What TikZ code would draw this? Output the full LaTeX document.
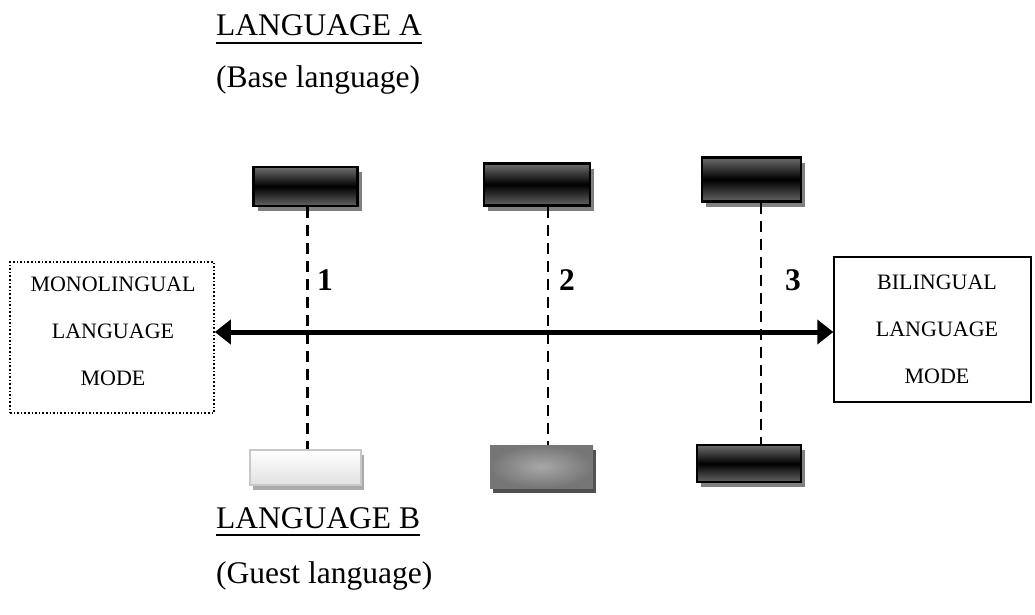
\documentclass[tikz,border=0pt]{standalone}
\usepackage{fontspec}
\setmainfont{Liberation Serif}
\usetikzlibrary{arrows.meta,shadows,calc}
\begin{document}
\begin{tikzpicture}[x=1pt,y=-1pt,
  darkbar/.style={draw=black,line width=2.5pt,inner sep=0pt,
    top color={rgb,255:red,110;green,110;blue,110},
    bottom color={rgb,255:red,100;green,100;blue,100},middle color=black,
    drop shadow={shadow xshift=4pt,shadow yshift=-5pt,fill={rgb,255:red,128;green,128;blue,128},opacity=1}},
  lightbar/.style={draw={rgb,255:red,200;green,200;blue,200},line width=2pt,inner sep=0pt,
    top color=white,bottom color={rgb,255:red,225;green,225;blue,225},
    drop shadow={shadow xshift=3pt,shadow yshift=-5pt,fill={rgb,255:red,170;green,170;blue,170},opacity=1}},
  midbar/.style={draw=none,inner sep=0pt,shading=radial,
    inner color={rgb,255:red,168;green,168;blue,168},outer color={rgb,255:red,118;green,118;blue,118},
    drop shadow={shadow xshift=3pt,shadow yshift=-5pt,fill={rgb,255:red,80;green,80;blue,80},opacity=1}},
  dashline/.style={line width=2.3pt,dash pattern=on 11pt off 7pt},
  bigtext/.style={font=\fontsize{31.5}{36}\selectfont,inner sep=0pt},
  boxtext/.style={font=\fontsize{22}{47}\selectfont,align=center,inner sep=0pt},
  numtext/.style={font=\fontsize{31.5}{36}\selectfont\bfseries,inner sep=0pt},
  bigarrow/.style={line width=5pt,{Triangle[length=16pt,width=24pt]}-{Triangle[length=16pt,width=24pt]}},
  ul/.style={line width=2pt}
]
\useasboundingbox (0,0) rectangle (1035,615);

% top labels
\node[bigtext,anchor=base west] (la) at (216,36) {LANGUAGE A};
\draw[ul] (la.south west) ++(0,6) coordinate (ula1) -- (ula1 -| la.south east);
\node[bigtext,anchor=base west] (lab) at (216,88) {(Base language)};

% top bars
\node[darkbar,minimum width=104pt,minimum height=39pt] (t1) at (305.5,186.5) {};
\node[darkbar,minimum width=106pt,minimum height=42pt] (t2) at (537,184.5) {};
\node[darkbar,minimum width=99pt,minimum height=44pt] (t3) at (751.5,179.5) {};

% bottom bars
\node[lightbar,minimum width=111pt,minimum height=35pt] (b1) at (305,467.5) {};
\node[midbar,minimum width=103pt,minimum height=43pt] (b2) at (541.5,466.5) {};
\node[darkbar,minimum width=104pt,minimum height=37pt] (b3) at (749,463.5) {};

% dashed lines
\draw[dashline] ([xshift=2pt]t1.south) -- ([xshift=2pt]t1.south |- b1.north);
\draw[dashline] ([xshift=11pt]t2.south) -- ([xshift=11pt]t2.south |- b2.north);
\draw[dashline] ([xshift=9.5pt]t3.south) -- ([xshift=9.5pt]t3.south |- b3.north);

% numbers
\node[numtext,anchor=base west] (n1) at (317,290) {1};
\node[numtext,anchor=base west] (n2) at (559,290) {2};
\node[numtext,anchor=base west] (n3) at (785,290) {3};

% mode boxes
\node[draw,line width=1.6pt,dotted,minimum width=204pt,minimum height=151pt,inner sep=0pt] (lbox) at (112,337.5) {};
\node[boxtext] (ltxt) at (113,331.5) {MONOLINGUAL\\LANGUAGE\\MODE};
\node[draw,line width=1.4pt,minimum width=197pt,minimum height=145pt,inner sep=0pt] (rbox) at (932.5,329.5) {};
\node[boxtext] (rtxt) at (937,329.5) {BILINGUAL\\LANGUAGE\\MODE};

% arrow
\coordinate (ay) at (0,332);
\draw[bigarrow] (lbox.east |- ay) -- (rbox.west |- ay);

% bottom labels
\node[bigtext,anchor=base west] (lb) at (216,528) {LANGUAGE B};
\draw[ul] (lb.south west) ++(0,6) coordinate (ulb1) -- (ulb1 -| lb.south east);
\node[bigtext,anchor=base west] (lbb) at (216,583) {(Guest language)};
\end{tikzpicture}
\end{document}
